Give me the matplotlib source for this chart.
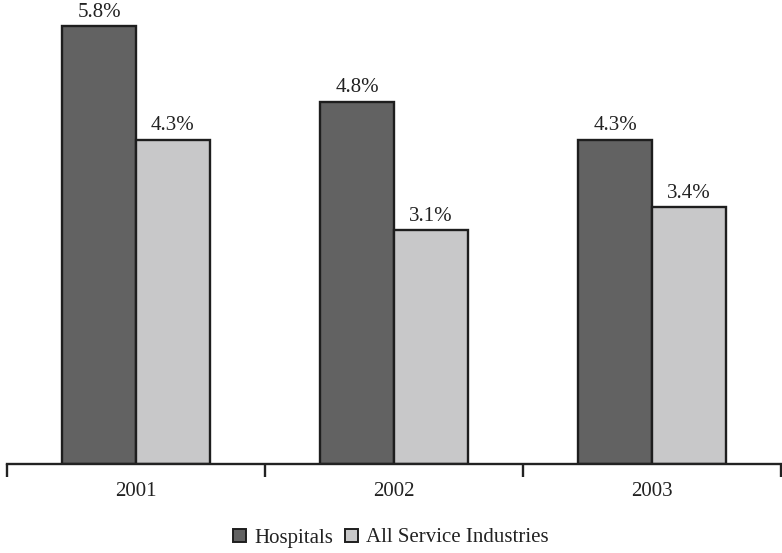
import matplotlib.pyplot as plt
import numpy as np
from matplotlib.patches import Patch

plt.rcParams["font.family"] = ["Liberation Serif", "DejaVu Serif"]

years = ["2001", "2002", "2003"]
hospitals = [5.8, 4.8, 4.3]
all_services = [4.3, 3.1, 3.4]

dark = "#626262"
light = "#c8c8c9"
edge = "#1e1e1e"

fig = plt.figure(figsize=(7.82, 5.53), dpi=100)
ax = fig.add_axes([7 / 782, 89 / 553, 774 / 782, 464 / 553])

x = np.arange(len(years))
w = 0.285
b1 = ax.bar(x - w / 2, hospitals, w, color=dark, edgecolor=edge, linewidth=1.7)
b2 = ax.bar(x + w / 2, all_services, w, color=light, edgecolor=edge, linewidth=1.7)

for bars, vals in ((b1, hospitals), (b2, all_services)):
    for rect, v in zip(bars, vals):
        ax.text(rect.get_x() + rect.get_width() / 2, v + 0.06, f"{v:.1f}%",
                ha="center", va="bottom", fontsize=15, color="#222222")

ax.set_xlim(-0.5, 2.5)
ax.set_ylim(0, 6.15)
for s in ("top", "right", "left"):
    ax.spines[s].set_visible(False)
ax.spines["bottom"].set_linewidth(1.7)
ax.spines["bottom"].set_color("#222222")
ax.set_yticks([])

# group boundaries get tick marks, labels sit in the middle
ax.set_xticks([-0.5, 0.5, 1.5, 2.5])
ax.set_xticklabels([])
ax.tick_params(axis="x", length=9, width=1.7, color="#222222")
ax.set_xticks(x, minor=True)
ax.set_xticklabels(years, minor=True, fontsize=15, color="#222222")
ax.tick_params(axis="x", which="minor", length=0, pad=13)

handles = [Patch(facecolor=dark, edgecolor=edge, linewidth=1.4, label="Hospitals"),
           Patch(facecolor=light, edgecolor=edge, linewidth=1.4, label="All Service Industries")]
fig.legend(handles=handles, loc="center", bbox_to_anchor=(0.5, 15 / 553), ncol=2,
           frameon=False, fontsize=15, handlelength=0.6, handleheight=0.6,
           handletextpad=0.4, columnspacing=0.6, labelcolor="#222222")

fig.savefig("out.png", dpi=100)
